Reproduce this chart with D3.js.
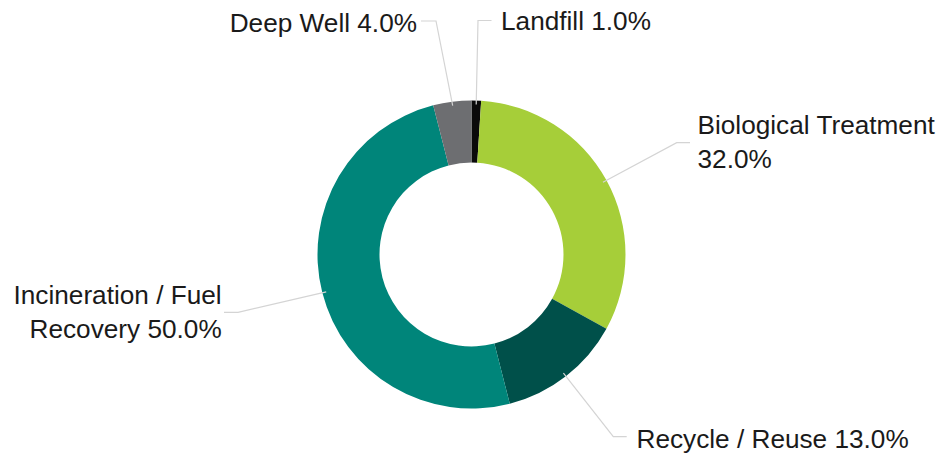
<!DOCTYPE html>
<html>
<head>
<meta charset="utf-8">
<script src="https://cdn.jsdelivr.net/npm/d3@7/dist/d3.min.js"></script>
<style>
  html, body { margin: 0; padding: 0; background: #fff; }
  svg { display: block; }
  text { font-family: "Liberation Sans", Arial, sans-serif; font-size: 26.2px; fill: #1a1a1a; }
</style>
</head>
<body>
<svg id="chart" width="948" height="456"></svg>
<script>
// Waste handling routes, share of total (%)
const categories = ["Landfill", "Biological Treatment", "Recycle / Reuse", "Incineration / Fuel Recovery", "Deep Well"];
const values = [1.0, 32.0, 13.0, 50.0, 4.0];
const colors = ["#0a0a0a", "#a6ce39", "#00504a", "#00857a", "#6d6e71"];

// Label text lines per slice
const labelLines = [
  ["Landfill 1.0%"],
  ["Biological Treatment", "32.0%"],
  ["Recycle / Reuse 13.0%"],
  ["Incineration / Fuel", "Recovery 50.0%"],
  ["Deep Well 4.0%"]
];

const width = 948, height = 456;
const cx = 471.5, cy = 254.5;
const outerR = 154, innerR = 92;
const lineH = 34;

// Label placement: elbow point, end of the leader, text anchor and first baseline
const labelLayout = [
  { elbow: [478, 20.5],    end: [491.5, 20.5],  tx: 501,   ty: 30,    anchor: "start" },
  { elbow: [676.7, 142.7], end: [690, 142.7],   tx: 697.5, ty: 134.3, anchor: "start" },
  { elbow: [613.3, 436.7], end: [626.7, 436.7], tx: 636.5, ty: 448.3, anchor: "start" },
  { elbow: [238, 312.3],   end: [224, 312.3],   tx: 221.7, ty: 304.3, anchor: "end" },
  { elbow: [436, 21],      end: [421, 21],      tx: 417,   ty: 31.5,  anchor: "end" }
];

const svg = d3.select("#chart");
const g = svg.append("g").attr("transform", `translate(${cx},${cy})`);

const data = categories.map((c, i) => ({ name: c, value: values[i], color: colors[i], lines: labelLines[i], layout: labelLayout[i] }));

const pie = d3.pie().value(d => d.value).sort(null);
const arcs = pie(data);
const arc = d3.arc().innerRadius(innerR).outerRadius(outerR);

// Leader lines (drawn under the ring, starting just inside the outer edge)
svg.append("g").selectAll("polyline")
  .data(arcs)
  .join("polyline")
  .attr("fill", "none")
  .attr("stroke", "#d4d4d4")
  .attr("stroke-width", 1.2)
  .attr("points", d => {
    const a = (d.startAngle + d.endAngle) / 2;
    const r = outerR - 4;
    const p0 = [cx + r * Math.sin(a), cy - r * Math.cos(a)];
    return [p0, d.data.layout.elbow, d.data.layout.end].map(p => p.join(",")).join(" ");
  });

// Ring slices
g.selectAll("path")
  .data(arcs)
  .join("path")
  .attr("d", arc)
  .attr("fill", d => d.data.color);

// Labels
const labels = svg.append("g").selectAll("text")
  .data(arcs)
  .join("text")
  .attr("text-anchor", d => d.data.layout.anchor)
  .attr("x", d => d.data.layout.tx)
  .attr("y", d => d.data.layout.ty);

labels.selectAll("tspan")
  .data(d => d.data.lines.map((t, i) => ({ t, i, x: d.data.layout.tx })))
  .join("tspan")
  .attr("x", d => d.x)
  .attr("dy", d => d.i === 0 ? 0 : lineH)
  .text(d => d.t);
</script>
</body>
</html>
